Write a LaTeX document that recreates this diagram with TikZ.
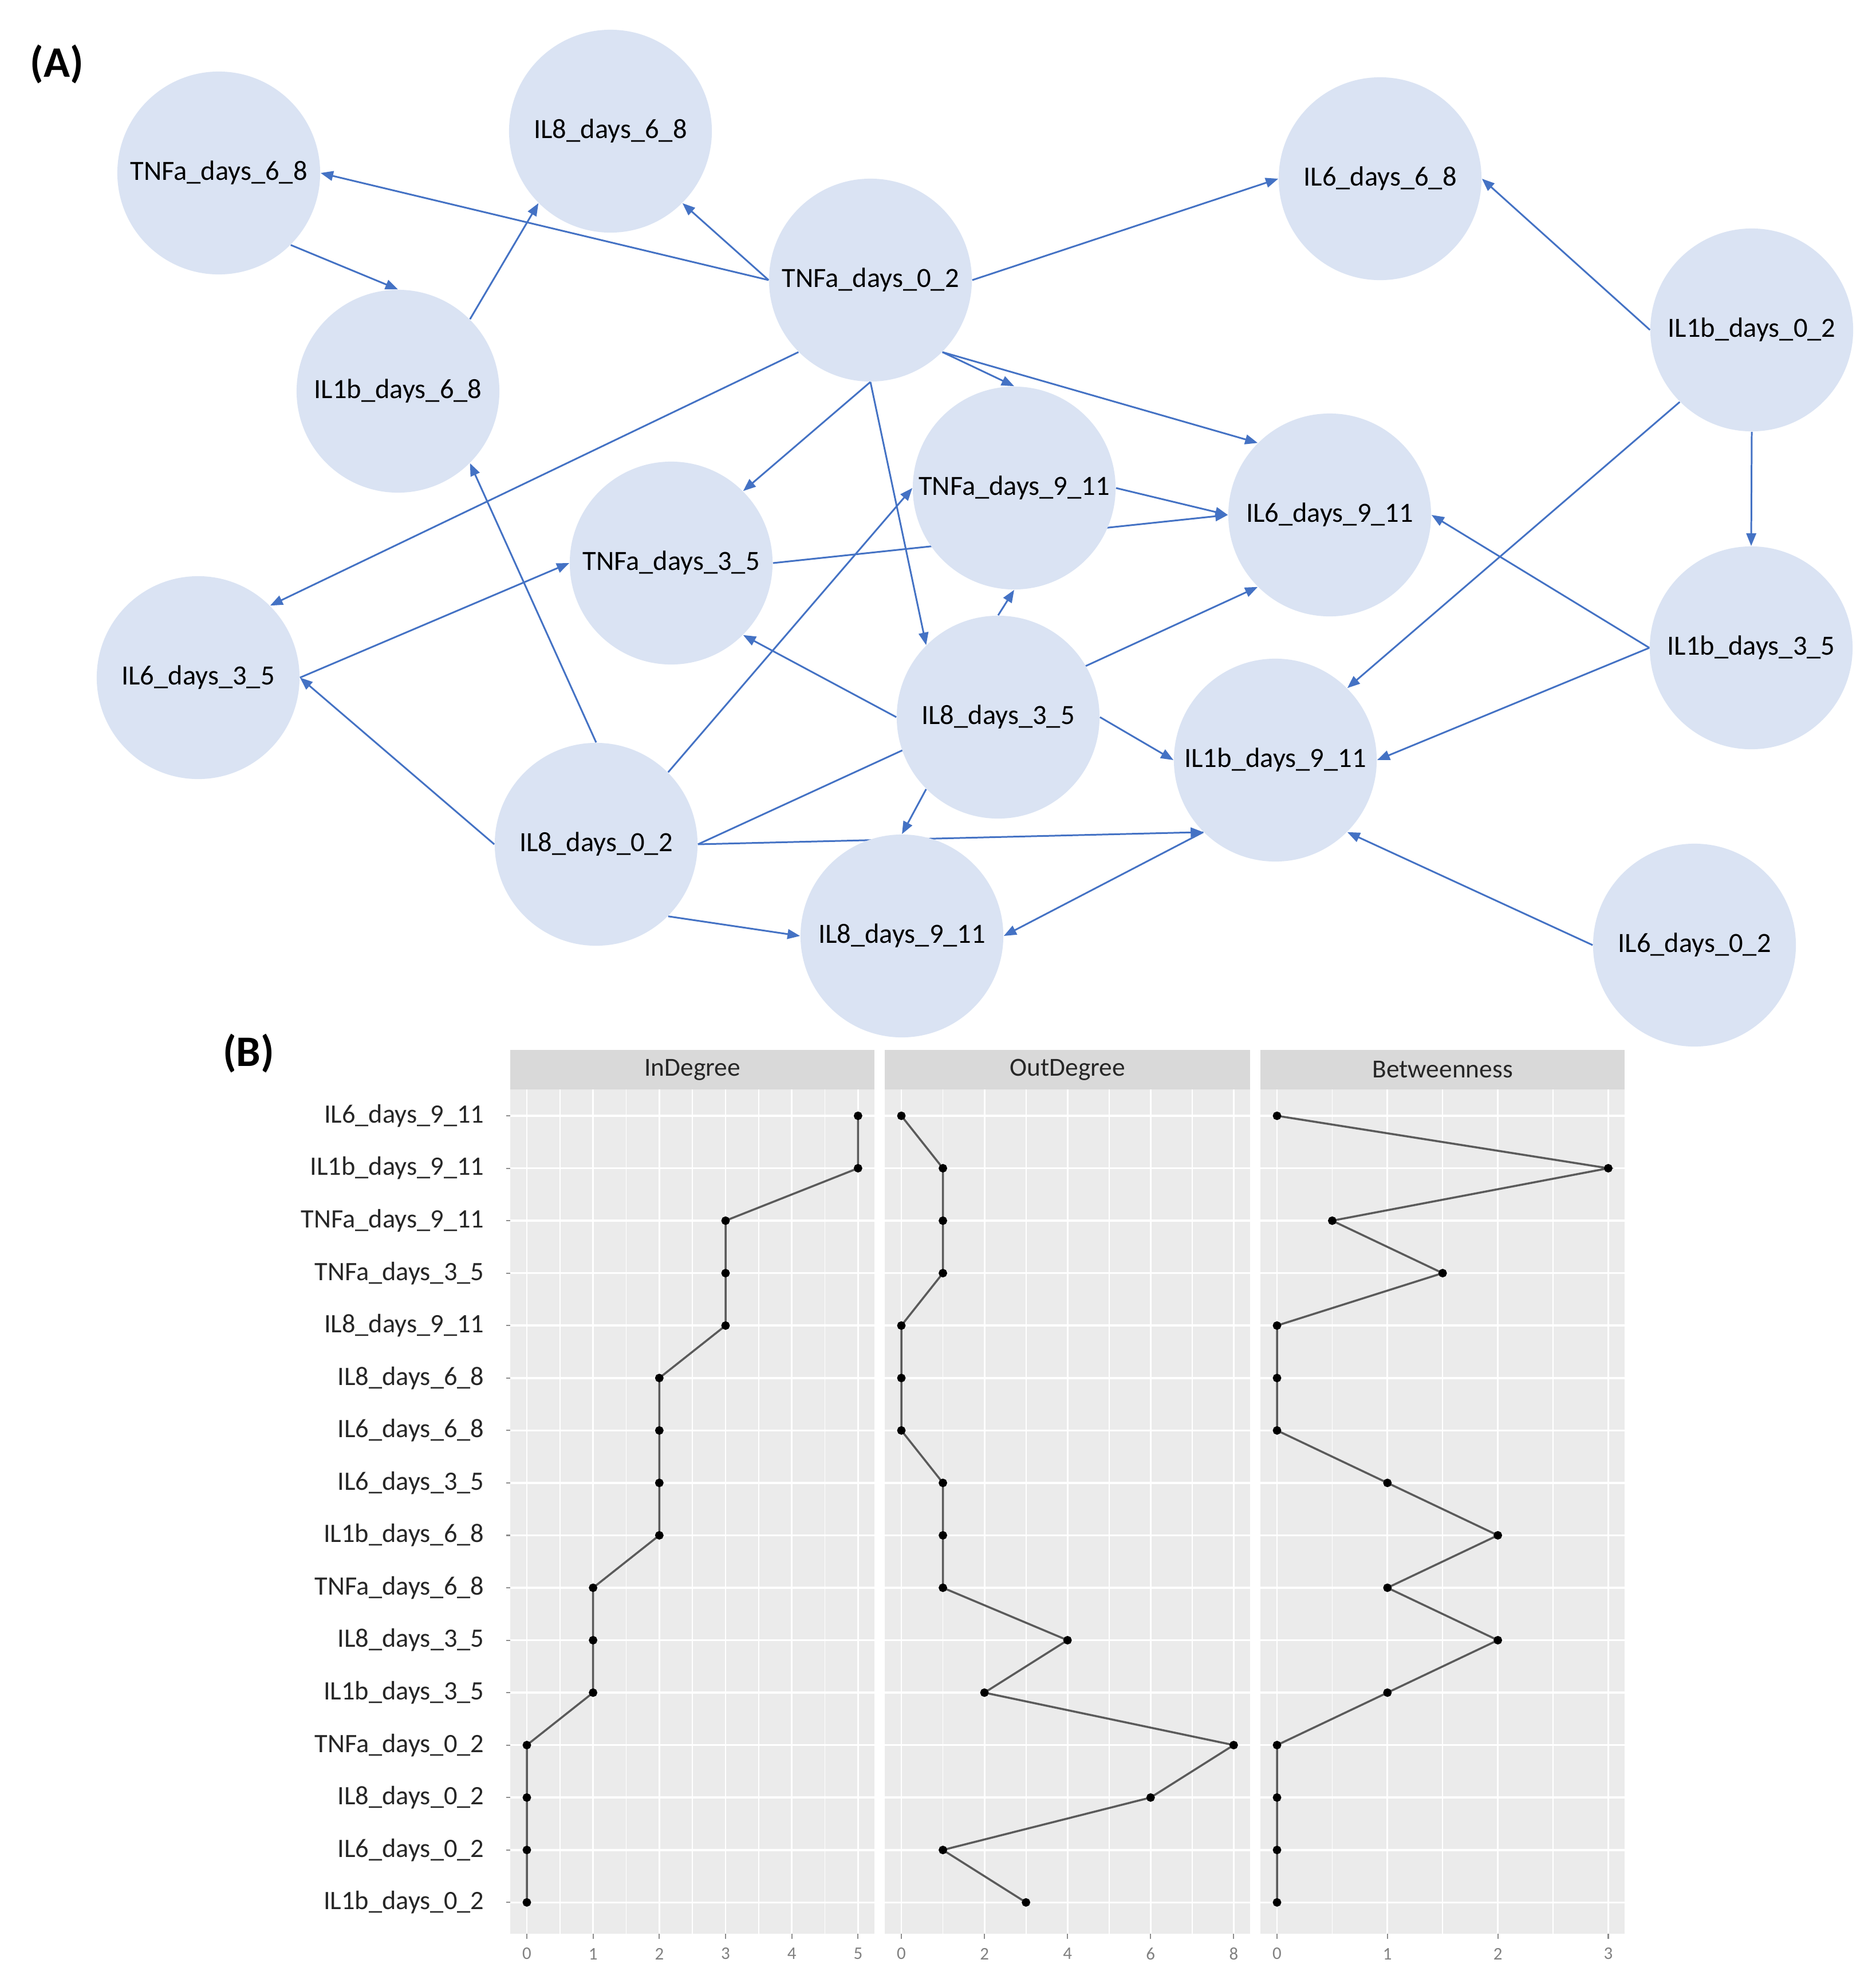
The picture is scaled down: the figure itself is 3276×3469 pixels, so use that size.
\documentclass[tikz,border=0pt]{standalone}
\usepackage{fontspec}
\setmainfont{Carlito}
\usetikzlibrary{arrows.meta,backgrounds}
\definecolor{relleno}{RGB}{218,227,243}
\definecolor{azul}{RGB}{68,114,196}
\definecolor{fondo}{RGB}{235,235,235}
\definecolor{tira}{RGB}{217,217,217}
\definecolor{trazo}{RGB}{90,90,90}
\tikzset{
    bola/.style={circle, fill=relleno, minimum size=3.54cm, inner sep=0pt,
        font=\fontsize{13.8}{16}\selectfont},
    flecha/.style={azul, line width=0.85pt, -{Triangle[length=0.22cm,width=0.17cm]}},
    titulo/.style={font=\fontsize{21.6}{24}\bfseries\selectfont},
    etiq/.style={anchor=east, inner sep=0pt, text=black!85, font=\fontsize{13.2}{15}\selectfont},
    tiratxt/.style={inner sep=0pt, text=black!85, font=\fontsize{12.9}{15}\selectfont},
    num/.style={inner sep=0pt, text=black!50, font=\fontsize{8.8}{10}\selectfont},
    rejilla/.style={white, line width=0.8pt},
    marca/.style={black!45, line width=0.6pt},
    serie/.style={trazo, line width=1pt},
    punto/.style={mark=*, mark size=1.6pt, mark options={fill=black, draw=black}}
}
\begin{document}
\begin{tikzpicture}[x=0.01cm, y=-0.01cm]
    \useasboundingbox (0,0) rectangle (3276,3469);

    % Etiquetas de los paneles
    \node[titulo] (etqA) at (99,112) {(A)};
    \node[titulo] (etqB) at (434,1839) {(B)};

    % Nodos de la red
    \node[bola] (TNFa68) at (382,302) {TNFa\_days\_6\_8};
    \node[bola] (IL868) at (1066,229) {IL8\_days\_6\_8};
    \node[bola] (TNFa02) at (1520,489) {TNFa\_days\_0\_2};
    \node[bola] (IL668) at (2410,312) {IL6\_days\_6\_8};
    \node[bola] (IL1b02) at (3059,576) {IL1b\_days\_0\_2};
    \node[bola] (IL1b68) at (695,683) {IL1b\_days\_6\_8};
    \node[bola] (TNFa911) at (1771,852) {TNFa\_days\_9\_11};
    \node[bola] (IL6911) at (2322,899) {IL6\_days\_9\_11};
    \node[bola] (TNFa35) at (1172,983) {TNFa\_days\_3\_5};
    \node[bola] (IL635) at (346,1183) {IL6\_days\_3\_5};
    \node[bola] (IL1b35) at (3058,1131) {IL1b\_days\_3\_5};
    \node[bola] (IL835) at (1743,1252) {IL8\_days\_3\_5};
    \node[bola] (IL1b911) at (2227,1327) {IL1b\_days\_9\_11};
    \node[bola] (IL802) at (1041,1474) {IL8\_days\_0\_2};
    \node[bola] (IL8911) at (1575,1634) {IL8\_days\_9\_11};
    \node[bola] (IL602) at (2959,1650) {IL6\_days\_0\_2};

    % Conexiones (debajo de los nodos)
    \begin{pgfonlayer}{background}
        \draw[flecha] (TNFa02.west) -- (TNFa68.east);
        \draw[flecha] (TNFa02.west) -- (IL868.south east);
        \draw[flecha] (TNFa02.east) -- (IL668.west);
        \draw[flecha] (TNFa02.south west) -- (IL635.north east);
        \draw[flecha] (TNFa02.south) -- (TNFa35.north east);
        \draw[flecha] (TNFa02.south) -- (IL835.north west);
        \draw[flecha] (TNFa02.south east) -- (TNFa911.north);
        \draw[flecha] (TNFa02.south east) -- (IL6911.north west);
        \draw[flecha] (IL1b02.west) -- (IL668.east);
        \draw[flecha] (IL1b02.south) -- (IL1b35.north);
        \draw[flecha] (IL1b02.south west) -- (IL1b911.north east);
        \draw[flecha] (TNFa68.south east) -- (IL1b68.north);
        \draw[flecha] (IL1b68.north east) -- (IL868.south west);
        \draw[flecha] (TNFa911.east) -- (IL6911.west);
        \draw[flecha] (TNFa35.east) -- (IL6911.west);
        \draw[flecha] (IL635.east) -- (TNFa35.west);
        \draw[flecha] (IL835.north) -- (TNFa911.south);
        \draw[flecha] (IL835.west) -- (TNFa35.south east);
        \draw[flecha] (IL835.east) -- (IL1b911.west);
        \draw[flecha] (IL835.south west) -- (IL8911.north);
        \draw[flecha] (IL802.east) -- (IL6911.south west);
        \draw[flecha] (IL802.north) -- (IL1b68.south east);
        \draw[flecha] (IL802.west) -- (IL635.east);
        \draw[flecha] (IL802.north east) -- (TNFa911.west);
        \draw[flecha] (IL802.east) -- (IL1b911.south west);
        \draw[flecha] (IL802.south east) -- (IL8911.west);
        \draw[flecha] (IL1b911.south west) -- (IL8911.east);
        \draw[flecha] (IL602.west) -- (IL1b911.south east);
        \draw[flecha] (IL1b35.west) -- (IL6911.east);
        \draw[flecha] (IL1b35.west) -- (IL1b911.east);
    \end{pgfonlayer}

    % Panel InDegree
    \begin{scope}[shift={(920,1948)}, x=1.156cm, y=-0.915cm]
        \fill[tira] (-0.25,-1.26) rectangle (5.25,-0.5);
        \node[tiratxt] (tInDeg) at (2.5,-0.88) {InDegree};
        \fill[fondo] (-0.25,-0.5) rectangle (5.25,15.6);
        \foreach \v in {0.5,1.5,...,4.5} \draw[rejilla, line width=0.5pt] (\v,-0.5) -- (\v,15.6);
        \foreach \v in {0,...,5} {
            \draw[rejilla] (\v,-0.5) -- (\v,15.6);
            \draw[marca] (\v,15.6) -- (\v,15.69);
            \node[num] (xa\v) at (\v,15.98) {\v};
        }
        \foreach \i in {0,...,15} {
            \draw[rejilla, line width=1pt] (-0.25,\i) -- (5.25,\i);
            \draw[marca] (-0.25,\i) -- (-0.31,\i);
        }
        \foreach \nombre [count=\i from 0] in {IL6\_days\_9\_11, IL1b\_days\_9\_11,
            TNFa\_days\_9\_11, TNFa\_days\_3\_5, IL8\_days\_9\_11, IL8\_days\_6\_8,
            IL6\_days\_6\_8, IL6\_days\_3\_5, IL1b\_days\_6\_8, TNFa\_days\_6\_8,
            IL8\_days\_3\_5, IL1b\_days\_3\_5, TNFa\_days\_0\_2, IL8\_days\_0\_2,
            IL6\_days\_0\_2, IL1b\_days\_0\_2}
            \node[etiq] (fila\i) at (-0.64,\i) {\nombre};
        \draw[serie] plot[punto] coordinates {(5,0) (5,1) (3,2) (3,3) (3,4) (2,5) (2,6) (2,7)
            (2,8) (1,9) (1,10) (1,11) (0,12) (0,13) (0,14) (0,15)};
    \end{scope}

    % Panel OutDegree
    \begin{scope}[shift={(1574,1948)}, x=0.725cm, y=-0.915cm]
        \fill[tira] (-0.4,-1.26) rectangle (8.4,-0.5);
        \node[tiratxt] (tOutDeg) at (4,-0.88) {OutDegree};
        \fill[fondo] (-0.4,-0.5) rectangle (8.4,15.6);
        \foreach \v in {1,3,5,7} \draw[rejilla, line width=0.5pt] (\v,-0.5) -- (\v,15.6);
        \foreach \v in {0,2,...,8} {
            \draw[rejilla] (\v,-0.5) -- (\v,15.6);
            \draw[marca] (\v,15.6) -- (\v,15.69);
            \node[num] (xb\v) at (\v,15.98) {\v};
        }
        \foreach \i in {0,...,15} \draw[rejilla, line width=1pt] (-0.4,\i) -- (8.4,\i);
        \draw[serie] plot[punto] coordinates {(0,0) (1,1) (1,2) (1,3) (0,4) (0,5) (0,6) (1,7)
            (1,8) (1,9) (4,10) (2,11) (8,12) (6,13) (1,14) (3,15)};
    \end{scope}

    % Panel Betweenness
    \begin{scope}[shift={(2230,1948)}, x=1.927cm, y=-0.915cm]
        \fill[tira] (-0.15,-1.26) rectangle (3.15,-0.5);
        \node[tiratxt] (tBetw) at (1.5,-0.88) {Betweenness};
        \fill[fondo] (-0.15,-0.5) rectangle (3.15,15.6);
        \foreach \v in {0.5,1.5,2.5} \draw[rejilla, line width=0.5pt] (\v,-0.5) -- (\v,15.6);
        \foreach \v in {0,...,3} {
            \draw[rejilla] (\v,-0.5) -- (\v,15.6);
            \draw[marca] (\v,15.6) -- (\v,15.69);
            \node[num] (xc\v) at (\v,15.98) {\v};
        }
        \foreach \i in {0,...,15} \draw[rejilla, line width=1pt] (-0.15,\i) -- (3.15,\i);
        \draw[serie] plot[punto] coordinates {(0,0) (3,1) (0.5,2) (1.5,3) (0,4) (0,5) (0,6) (1,7)
            (2,8) (1,9) (2,10) (1,11) (0,12) (0,13) (0,14) (0,15)};
    \end{scope}
\end{tikzpicture}
\end{document}
